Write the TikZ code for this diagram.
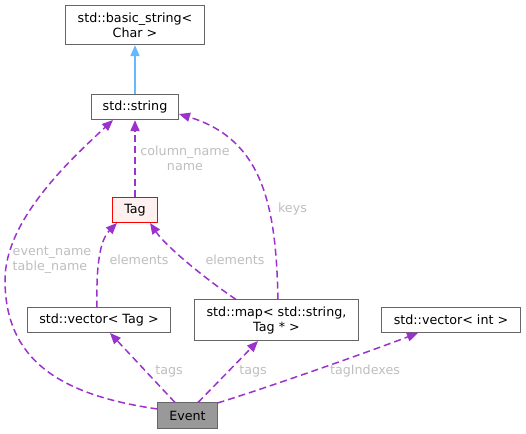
\documentclass[tikz,border=0pt]{standalone}
\usepackage{fontspec}
\setmainfont{DejaVu Sans}
\usetikzlibrary{arrows.meta}
\definecolor{edgepurple}{HTML}{9A32CD}
\definecolor{edgeblue}{HTML}{63B8FF}
\definecolor{boxgray}{HTML}{666666}
\definecolor{lblgray}{HTML}{BEBEBE}
\definecolor{tagfill}{HTML}{FFF0F0}
\definecolor{eventfill}{HTML}{999999}
\tikzset{
  cls/.style={draw=boxgray, line width=1.3pt, fill=white, inner sep=0pt, align=center,
    font=\fontsize{12.7}{15}\selectfont},
  rel/.style={edgepurple, line width=1.5pt, dash pattern=on 7pt off 4pt,
    -{Triangle[length=11pt,width=9pt]}},
  inh/.style={edgeblue, line width=1.8pt, -{Triangle[length=11pt,width=9pt]}},
  vrel/.style={rel, line width=1.9pt},
  lbl/.style={lblgray, inner sep=0pt, font=\fontsize{12.7}{15}\selectfont},
}
\begin{document}
\begin{tikzpicture}[x=1pt,y=-1pt]
\useasboundingbox (0,0) rectangle (526,433);
% nodes
\node[cls, minimum width=139pt, minimum height=39pt] (bs) at (135,25) {std::basic\_string<\\Char >};
\node[cls, minimum width=87pt, minimum height=25pt] (str) at (135,107) {std::string};
\node[cls, draw=red, fill=tagfill, minimum width=45pt, minimum height=25pt] (tag) at (135,210) {Tag};
\node[cls, minimum width=143pt, minimum height=25pt] (vtag) at (99,320) {std::vector< Tag >};
\node[cls, minimum width=164pt, minimum height=41pt] (map) at (276.5,320) {std::map< std::string,\\Tag * >};
\node[cls, minimum width=139pt, minimum height=25pt] (vint) at (451,320) {std::vector< int >};
\node[cls, fill=eventfill, minimum width=60pt, minimum height=26pt] (ev) at (187.5,415.5) {Event};
% coordinates on borders
\coordinate (evL) at (157.5,409);
\coordinate (evT1) at (175,402.5);
\coordinate (evT2) at (198,402.5);
\coordinate (evR) at (217.5,403);
\coordinate (strBL) at (113,120);
\coordinate (strR) at (179,114);
\coordinate (tagBL) at (117,223);
\coordinate (tagBR) at (150,223);
\coordinate (vtagT) at (97,307.5);
\coordinate (vtagB) at (110,333);
\coordinate (mapT) at (278,299.5);
\coordinate (mapTL) at (236,299.5);
\coordinate (mapB) at (258,341);
\coordinate (vintB) at (418,333);
% edges
\draw[inh] (str.north) -- (bs.south);
\draw[vrel] (tag.north) -- (str.south);
\draw[rel] (evL) .. controls (60,395) and (5,360) .. (5,280) .. controls (5,220) and (70,160) .. (strBL);
\draw[rel] (mapT) .. controls (276,210) and (265,140) .. (strR);
\draw[rel] (vtagT) .. controls (96,265) and (100,240) .. (tagBL);
\draw[rel] (mapTL) .. controls (200,275) and (165,245) .. (tagBR);
\draw[rel] (evT1) -- (vtagB);
\draw[rel] (evT2) -- (mapB);
\draw[rel] (evR) .. controls (260,390) and (360,355) .. (vintB);
% labels
\node[lbl, align=center] (l1) at (185,158) {column\_name\\name};
\node[lbl, align=left, anchor=west] (l2) at (12.5,260) {event\_name\\table\_name};
\node[lbl] (l3) at (292.5,209.3) {keys};
\node[lbl] (l4) at (139,260) {elements};
\node[lbl] (l5) at (235,260) {elements};
\node[lbl] (l6) at (169,371) {tags};
\node[lbl] (l7) at (253,371) {tags};
\node[lbl] (l8) at (365,371) {tagIndexes};
\end{tikzpicture}
\end{document}
